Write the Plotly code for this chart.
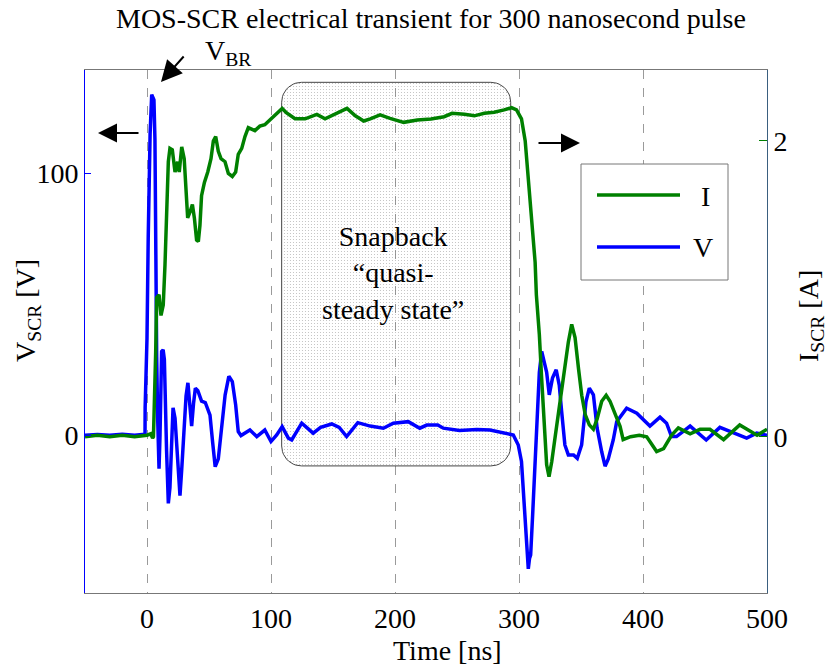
import numpy as np
import plotly.graph_objects as go

# ---- measured waveforms -------------------------------------------------
t_v = [-50, -40, -30, -20, -10, -3, -1.6, -1.5, 0, 1, 2.5, 3.8, 5.6, 6.4, 7, 7.8,
       8.6, 9.7, 10.5, 11.8, 13, 14, 15.8, 17.2, 18.5, 19.5, 21, 22.6, 24, 25.3,
       26.6, 28, 30, 31.5, 33, 34.7, 36, 37.5, 39, 41, 44, 47, 50.8, 53, 55, 57.5,
       60, 63, 66, 68.8, 71.5, 73.6, 75.8, 83, 88.5, 95, 100, 104.6, 109, 114,
       116.7, 124.8, 134, 140, 149, 155, 161, 170, 180, 190.6, 198.6, 210.7, 220,
       225.6, 234.5, 239, 252, 266, 276.6, 287, 292.5, 295.4, 298, 299.4, 302,
       303.5, 305, 306, 307.5, 308.5, 309.4, 311, 313, 314.8, 316.4, 318.3, 320,
       322.3, 324.4, 327, 330, 332.5, 334.4, 337, 339.8, 344, 347, 350.5, 354,
       356.7, 360, 363, 366.7, 369.4, 372, 376, 378.8, 386.8, 395, 405.6, 413.7,
       419, 423, 427, 438, 451, 462, 473, 483.6, 491.7, 500]
v_scr = [0, 0.3, 0, 0.4, 0, 0.5, 0.4, 10.5, 37, 76, 115, 130, 128, 113, 57, 30,
         6.5, -12.8, 0, 32, 32.6, 29, -6, -26, -20, -6, 10.5, 6.5, -6, -13,
         -23, -13, 5, 15, 20, 8, 3.5, 12, 18, 17, 13, 12.5, 7.7, -3, -12, -9,
         2.7, 15.4, 22.5, 20.5, 11.6, 1.4, -0.1, 2, -0.5, 2, -2.4, 0.1, 3.3, -1.1,
         -1.8, 4.6, 0.8, 3, 4.3, 3, -0.5, 4.8, 3.5, 2.7, 4.6, 5.2, 2.7,
         3.9, 3.9, 2.7, 1.8, 2.2, 2.0, 1.0, 0.7, 0.1, -2.4, -3.7, -10,
         -22.8, -35.5, -43, -51, -47, -45.7, -30.4, -10, 10.3, 24, 32, 28,
         24, 15.4, 21.8, 25, 19, 9, -3.7, -7.5, -7.5, -8.8, -3.7, 12.8,
         18, 15.4, 2.7, -6.3, -11.8, -9, -1.8, 5.2, 10.3, 8.4, 3.5, 6.9,
         4.6, -0.5, -0.5, 3.5, -1.8, 3, 0.8, -1.1, 0.8, 0]

t_i = [-50, -40, -30, -20, -10, 0, 3, 4.5, 5.2, 5.9, 7, 7.8, 9.7, 11.3, 13.1,
       14.5, 15.9, 17.2, 18.5, 20.4, 22.6, 24.7, 26, 28, 30, 31.2, 32.8, 34.7,
       36.6, 38.2, 40, 41.4, 42.7, 44, 46.3, 49, 51.6, 53.5, 55.4, 57.5, 59.7,
       62.9, 65.6, 68.8, 71.5, 73.6, 76.4, 79, 81.7, 87, 91, 95, 99, 104.6, 109,
       112.6, 116.7, 119.4, 127.5, 137, 143.6, 151.8, 161.3, 168, 174.8, 180,
       188, 196, 207, 218, 229, 239.6, 246, 256, 264, 272, 280, 288, 294, 298,
       302, 305, 307.5, 310.2, 313, 314, 316.4, 318.3, 320.2, 322.3, 324.2,
       326.4, 329, 331.7, 334.4, 337, 339.8, 342.5, 345.2, 348, 350.6, 353.4,
       356.7, 360, 363, 366.7, 370.3, 373.4, 377.4, 381.5, 384, 390, 397, 403,
       411, 416.6, 423, 428.5, 438, 446, 454, 465, 478, 492, 500]
i_scr = [0, 0.01, 0, 0.01, 0, 0.01, 0.02, -0.01, 0.0, 0.16, 0.57, 0.94, 0.96, 0.82, 0.89,
         1.16, 1.59, 1.86, 1.95, 1.94, 1.79, 1.86, 1.79, 1.96, 1.88, 1.66, 1.48, 1.52,
         1.57, 1.48, 1.33, 1.32, 1.43, 1.63, 1.72, 1.79, 1.88, 2.0, 2.03, 1.93, 1.88,
         1.86, 1.78, 1.76, 1.79, 1.91, 1.95, 2.03, 2.09, 2.07, 2.10, 2.11, 2.14, 2.18, 2.22,
         2.19, 2.17, 2.15, 2.15, 2.18, 2.15, 2.18, 2.22, 2.17, 2.135, 2.15,
         2.176, 2.153, 2.126, 2.142, 2.149, 2.164, 2.187, 2.18, 2.17, 2.187, 2.194, 2.21, 2.225, 2.21,
         2.15, 2.0, 1.75, 1.45, 1.18, 0.96, 0.69, 0.39, 0.08, -0.19, -0.27,
         -0.17, -0.01, 0.15, 0.33, 0.46, 0.64, 0.76, 0.67, 0.46, 0.28, 0.15,
         0.08, 0.05, 0.12, 0.24, 0.28, 0.24, 0.15, 0.07, -0.02, 0.0, 0.01, 0.0,
         -0.1, -0.08, 0.01, 0.06, 0.02, 0.05, 0.05, -0.02, 0.08, 0.01, 0.05]

x_ticks = [0, 100, 200, 300, 400, 500]
v_ticks = [0, 100]
i_ticks = [0, 2]

# snapback region (time in ns, voltage in V)
snap_t = (108.6, 293.3)
snap_v = (-11.7, 134.7)

SERIF = "Liberation Serif, Times New Roman, serif"
GREEN = "#008000"
BLUE = "#0000ff"


def rounded_rect(x0, x1, y0, y1, rx, ry, n=12):
    """Outline of a rectangle with elliptical corners."""
    xs, ys = [], []
    corners = [(x1 - rx, y1 - ry, 0), (x0 + rx, y1 - ry, 90),
               (x0 + rx, y0 + ry, 180), (x1 - rx, y0 + ry, 270)]
    for cx, cy, start in corners:
        a = np.radians(np.linspace(start, start + 90, n))
        xs.extend(cx + rx * np.cos(a))
        ys.extend(cy + ry * np.sin(a))
    xs.append(xs[0])
    ys.append(ys[0])
    return xs, ys


bx, by = rounded_rect(snap_t[0], snap_t[1], snap_v[0], snap_v[1], 16, 7.6)

fig = go.Figure()

fig.add_trace(go.Scatter(
    x=bx, y=by, mode="lines", fill="toself",
    line=dict(color="#444", width=1),
    fillcolor="rgba(0,0,0,0)",
    fillpattern=dict(shape=".", size=3, solidity=0.12,
                     fgcolor="#777777", bgcolor="rgba(0,0,0,0)"),
    hoverinfo="skip", showlegend=False))

fig.add_trace(go.Scatter(x=t_v, y=v_scr, mode="lines", name="V",
                         line=dict(color=BLUE, width=3.5), showlegend=False))
fig.add_trace(go.Scatter(x=t_i, y=i_scr, mode="lines", name="I", yaxis="y2",
                         line=dict(color=GREEN, width=3.5), showlegend=False))

fig.update_layout(
    width=828, height=669,
    margin=dict(l=85, r=61, t=70, b=76),
    paper_bgcolor="white", plot_bgcolor="white",
    font=dict(family=SERIF, size=28, color="black"),
    showlegend=False,
    xaxis=dict(range=[-50, 500], tickvals=x_ticks, ticks="",
               showgrid=True, gridcolor="#9a9a9a", griddash="dash", gridwidth=1,
               showline=True, linecolor="#777", linewidth=1, mirror=True,
               zeroline=False, tickfont=dict(family=SERIF, size=28)),
    yaxis=dict(range=[-60.2, 139.4], tickvals=v_ticks, ticks="inside",
               ticklen=6, tickcolor=BLUE, showgrid=False, zeroline=False,
               showline=True, linecolor=BLUE, linewidth=1,
               tickfont=dict(family=SERIF, size=28)),
    yaxis2=dict(range=[-1.057, 2.48], tickvals=i_ticks, ticks="inside",
                ticklen=8, tickcolor=GREEN, overlaying="y", side="right",
                showgrid=False, zeroline=False, showline=True,
                linecolor="#3a5f7f", linewidth=1,
                tickfont=dict(family=SERIF, size=28)),
)

L, R, T, B = 85, 767, 70, 593


def px(x):
    return (x - L) / (R - L)


def py(y):
    return (B - y) / (B - T)


notes = [
    dict(text="MOS-SCR electrical transient for 300 nanosecond pulse",
         x=px(431), y=py(18), size=28),
    dict(text="Time [ns]", x=px(447), y=py(650), size=28),
    dict(text="V<sub>BR</sub>", x=px(228), y=py(52), size=28),
    dict(text="Snapback<br>“quasi-<br>steady state”", x=px(393), y=py(273), size=28),
    dict(text="I", x=px(705), y=py(196), size=28),
    dict(text="V", x=px(703), y=py(247), size=28),
]
for n in notes:
    fig.add_annotation(text=n["text"], x=n["x"], y=n["y"], xref="paper", yref="paper",
                       showarrow=False, xanchor="center", yanchor="middle",
                       font=dict(family=SERIF, size=n["size"], color="black"))

fig.add_annotation(text="V<sub>SCR</sub> [V]", x=px(27), y=py(311), xref="paper",
                   yref="paper", showarrow=False, textangle=-90,
                   xanchor="center", yanchor="middle",
                   font=dict(family=SERIF, size=28, color="black"))
fig.add_annotation(text="I<sub>SCR</sub> [A]", x=px(810), y=py(316), xref="paper",
                   yref="paper", showarrow=False, textangle=-90,
                   xanchor="center", yanchor="middle",
                   font=dict(family=SERIF, size=28, color="black"))

# direction arrows
arrows = [((98, 133), 42, 0, 1.9), ((580, 143), -43, 0, 1.9), ((161, 82), 24, -27, 2.1)]
for (hx, hy), ax, ay, size in arrows:
    fig.add_annotation(text="", x=px(hx), y=py(hy), xref="paper", yref="paper",
                       ax=ax, ay=ay, showarrow=True, arrowhead=2, arrowsize=size,
                       arrowwidth=2, arrowcolor="black")

# legend frame and keys
fig.add_shape(type="rect", xref="paper", yref="paper",
              x0=px(581), x1=px(728), y0=py(280), y1=py(164),
              line=dict(color="#777", width=1), fillcolor="white", layer="above")
fig.add_shape(type="line", xref="paper", yref="paper",
              x0=px(597), x1=px(680), y0=py(195), y1=py(195),
              line=dict(color=GREEN, width=3.5), layer="above")
fig.add_shape(type="line", xref="paper", yref="paper",
              x0=px(597), x1=px(680), y0=py(247), y1=py(247),
              line=dict(color=BLUE, width=3.5), layer="above")

fig.write_html("out.html")
